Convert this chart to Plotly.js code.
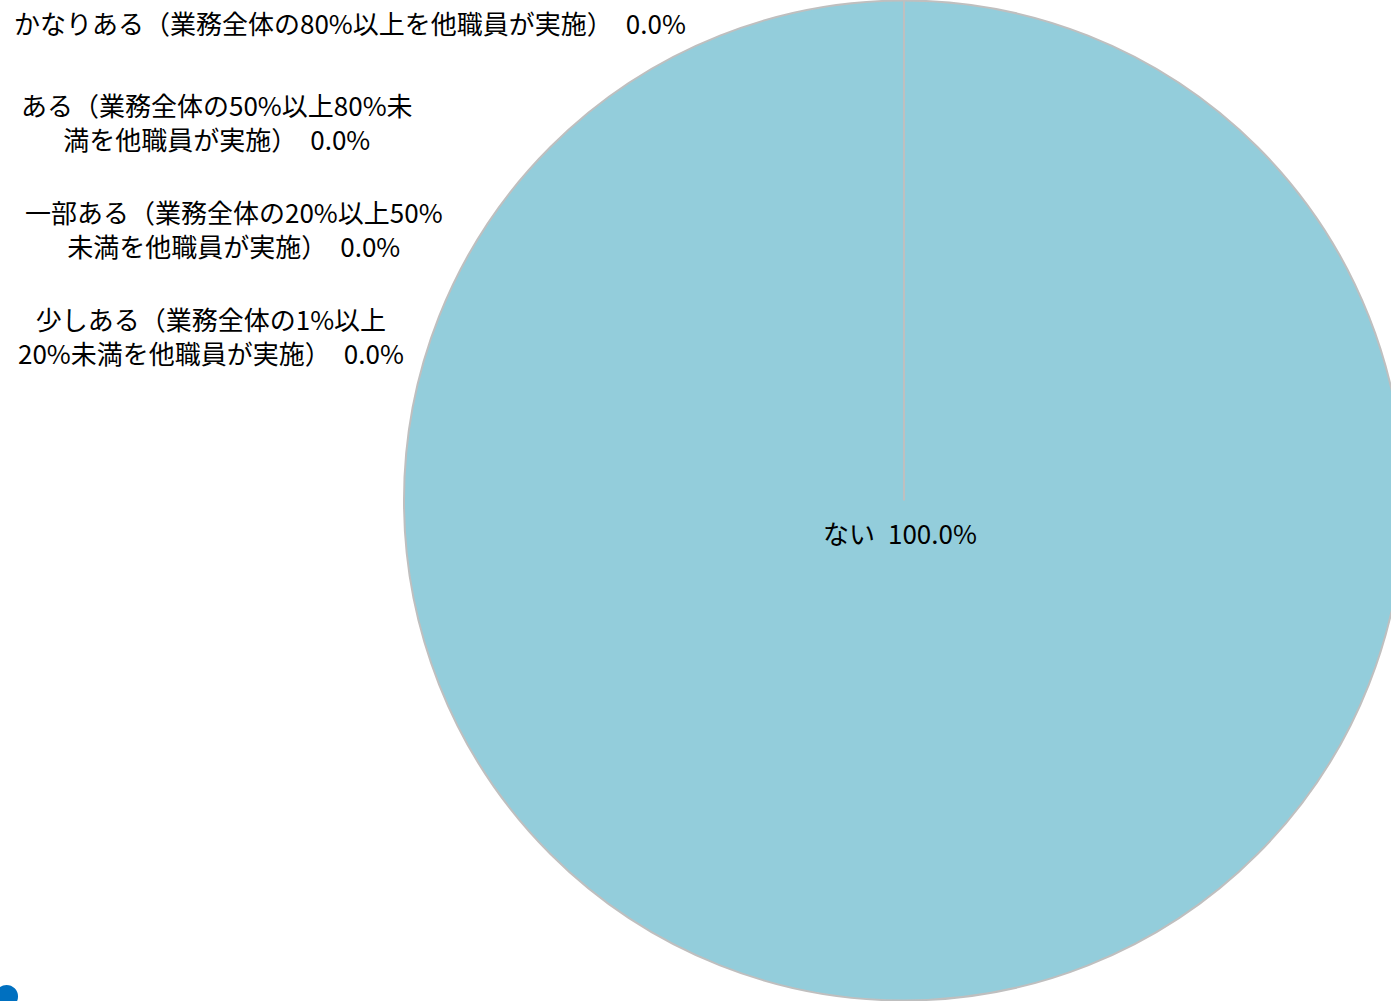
<!DOCTYPE html>
<html>
<head>
<meta charset="utf-8">
<script src="https://cdn.plot.ly/plotly-3.0.1.min.js"></script>
<style>
  html, body { margin: 0; padding: 0; overflow: hidden; background: #fff; }
  #plot { width: 1420px; height: 1001px; }
</style>
</head>
<body>
<div id="plot"></div>
<script>
// answer categories (order as drawn, clockwise from 12 o'clock)
var labels = [
  "かなりある（業務全体の80%以上を他職員が実施）",
  "ある（業務全体の50%以上80%未満を他職員が実施）",
  "一部ある（業務全体の20%以上50%未満を他職員が実施）",
  "少しある（業務全体の1%以上20%未満を他職員が実施）",
  "ない"
];
// wrapped versions used for the labels
var wrapped = [
  "かなりある（業務全体の80%以上を他職員が実施）",
  "ある（業務全体の50%以上80%未<br>満を他職員が実施）",
  "一部ある（業務全体の20%以上50%<br>未満を他職員が実施）",
  "少しある（業務全体の1%以上<br>20%未満を他職員が実施）",
  "ない"
];
var values = [0, 0, 0, 0, 100];

var total = values.reduce(function(a, b) { return a + b; }, 0);
function pct(v) { return (v / total * 100).toFixed(1) + "%"; }

var font = "'Noto Sans CJK JP', 'Noto Sans', sans-serif";
var W = 1420, H = 1001;
var dom = { x: [0.2845, 0.9887], y: [0, 1] };

var trace = {
  type: "pie",
  labels: labels,
  values: values,
  sort: false,
  direction: "clockwise",
  rotation: 0,
  domain: dom,
  marker: {
    colors: values.map(function() { return "#93CDDB"; }),
    line: { color: "#BFBFBF", width: 2 }
  },
  textinfo: "none",
  hoverinfo: "label+percent",
  showlegend: false
};

// label anchor points (paper coords)
var labelX = [0.2465, 0.1528, 0.1648, 0.1486, 0.634];
var labelY = [0.978, 0.879, 0.772, 0.665, 0.4685];

var annotations = values.map(function(v, i) {
  return {
    xref: "paper", yref: "paper",
    x: labelX[i], y: labelY[i],
    xanchor: "center", yanchor: "middle",
    align: "center",
    showarrow: false,
    text: wrapped[i] + (v > 0 ? "\u2002" : "　") + pct(v),
    font: { family: font, size: 26, color: "#000" }
  };
});

// boundary of the zero slices: radius from the centre to 12 o'clock
var cx = (dom.x[0] + dom.x[1]) / 2;
var cy = (dom.y[0] + dom.y[1]) / 2;
var r = Math.min((dom.x[1] - dom.x[0]) * W, (dom.y[1] - dom.y[0]) * H) / 2;

var layout = {
  width: W,
  height: H,
  margin: { l: 0, r: 0, t: 0, b: 0 },
  paper_bgcolor: "#fff",
  annotations: annotations,
  shapes: [{
    type: "line", xref: "paper", yref: "paper",
    x0: cx, x1: cx, y0: cy, y1: cy + r / H,
    line: { color: "#BFBFBF", width: 2 }
  }, {
    type: "circle", xref: "paper", yref: "paper",
    x0: -0.0035, x1: 0.0127, y0: -0.007, y1: 0.016,
    fillcolor: "#0070C0", line: { width: 0 }
  }]
};

Plotly.newPlot("plot", [trace], layout, { displayModeBar: false, staticPlot: true });
</script>
</body>
</html>
